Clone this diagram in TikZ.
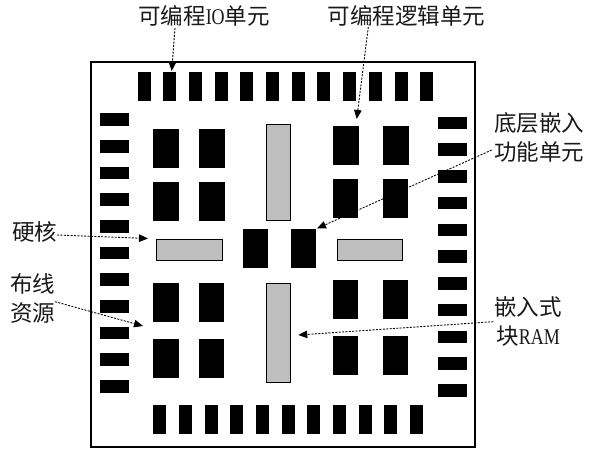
\documentclass[tikz,border=0pt]{standalone}
\usepackage{fontspec}
\usepackage{graphicx}
\newfontfamily\cjk{Noto Sans CJK SC}
\newfontfamily\latf{Liberation Serif}
\newcommand\Lt[1]{\scalebox{0.8}[1]{\latf #1}}
\usetikzlibrary{arrows.meta}
\begin{document}
\begin{tikzpicture}[x=1pt,y=-1pt,
  blk/.style={draw=none,fill=black,inner sep=0pt,outer sep=0pt},
  gbar/.style={draw=black,line width=0.8pt,fill=black!25,inner sep=0pt,outer sep=0pt},
  lbl/.style={font=\cjk\fontsize{22.5}{28.5}\selectfont,text=black!90,align=center,inner sep=0pt},
  ptr/.style={line width=0.9pt,dash pattern=on 2pt off 1.4pt,-{Triangle[length=9pt,width=7.5pt]}}
]
\useasboundingbox (0,0) rectangle (589,449);
\fill[white] (0,0) rectangle (589,449);
% outer chip box
\node[draw=black,line width=1.2pt,inner sep=0pt,minimum width=384pt,minimum height=385pt] (chip) at (283,254.5) {};
% top IO
\foreach \i in {0,...,11}{
  \node[blk,minimum width=13pt,minimum height=29pt] (iot\i) at ({144+25.7*\i},86.5) {};
}
% bottom IO
\foreach \i in {0,...,10}{
  \node[blk,minimum width=13pt,minimum height=29pt] (iob\i) at ({159.8+25.67*\i},419.5) {};
}
% left IO
\foreach \i in {0,...,10}{
  \node[blk,minimum width=29pt,minimum height=12.5pt] (iol\i) at (114.5,{119.6+26.67*\i}) {};
}
% right IO
\foreach \i in {0,...,10}{
  \node[blk,minimum width=29pt,minimum height=12.5pt] (ior\i) at (452.2,{123+26.73*\i}) {};
}
% logic blocks
\foreach \x/\y/\n in {166.2/148.7/a,211.8/148.7/b,166.2/201.4/c,211.8/201.4/d,
                      166.2/302.5/e,211.7/302.5/f,166.2/358.5/g,211.7/358.5/h,
                      346/146/i,396/146/j,345.5/198.3/k,395.5/198.3/l,
                      345.5/299.7/m,395.7/299.7/n,345.5/355.7/o,395.7/355.7/p}{
  \node[blk,minimum width=25.5pt,minimum height=39pt] (lb\n) at (\x,\y) {};
}
% center hard blocks
\node[blk,minimum width=25pt,minimum height=38.4pt] (cl) at (255.8,248.5) {};
\node[blk,minimum width=25pt,minimum height=38.4pt] (cr) at (303.5,248.5) {};
% gray bars
\node[gbar,minimum width=24.4pt,minimum height=96pt] (gtop) at (278.5,172.3) {};
\node[gbar,minimum width=24.4pt,minimum height=99pt] (gbot) at (278.5,332.8) {};
\node[gbar,minimum width=65.6pt,minimum height=20.7pt] (gleft) at (189.5,249.6) {};
\node[gbar,minimum width=65.4pt,minimum height=20.7pt] (gright) at (370,249.6) {};
% labels
\node[lbl] (Lio) at (204,16) {可编程\Lt{IO}单元};
\node[lbl] (Llogic) at (406.7,16) {可编程逻辑单元};
\node[lbl] (Lembed) at (539,137.5) {底层嵌入\\功能单元};
\node[lbl] (Lhard) at (35,232) {硬核};
\node[lbl] (Lroute) at (32.5,298.3) {布线\\资源};
\node[lbl] (Lram) at (528,321.5) {嵌入式\\块\Lt{RAM}};
% arrow end points
\coordinate (s1) at (175,28);    \coordinate (t1) at (171.7,71);
\coordinate (s2) at (368.3,27);  \coordinate (t2) at (356.7,119);
\coordinate (s3) at (491.7,150); \coordinate (t3) at (317,228.5);
\coordinate (s4) at (57,235);    \coordinate (t4) at (148,238.5);
\coordinate (s5) at (55,301.7);  \coordinate (t5) at (143,326);
\coordinate (s6) at (493.3,321.7); \coordinate (t6) at (298.3,335);
\draw[ptr] (s1) -- (t1);
\draw[ptr] (s2) -- (t2);
\draw[ptr] (s3) -- (t3);
\draw[ptr] (s4) -- (t4);
\draw[ptr] (s5) -- (t5);
\draw[ptr] (s6) -- (t6);
\end{tikzpicture}
\end{document}
